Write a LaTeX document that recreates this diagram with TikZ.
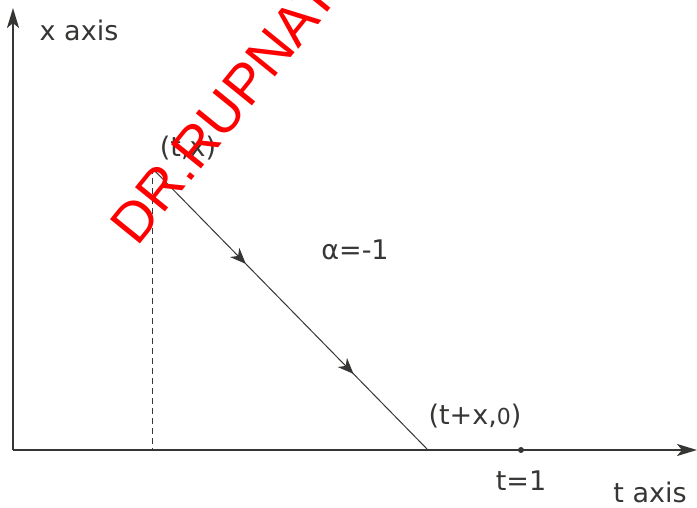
\documentclass[tikz,border=0pt]{standalone}
\usepackage{fontspec}
\setmainfont{DejaVu Sans}
\newfontfamily\wmfont{Liberation Sans}
\usetikzlibrary{arrows.meta,decorations.markings}
\definecolor{ink}{HTML}{363634}
\begin{document}
\begin{tikzpicture}[x=1pt,y=-1pt,
  axis/.style={line width=2.4pt,draw=ink,-{Stealth[length=20pt,width=12pt,inset=5pt]}},
  lbl/.style={font=\fontsize{27}{30}\selectfont,text=ink,inner sep=0pt},
  midarrows/.style={postaction={decorate},decoration={markings,
     mark=at position 0.34 with {\arrow{Stealth[length=16pt,width=13pt,inset=5pt]}},
     mark=at position 0.73 with {\arrow{Stealth[length=16pt,width=13pt,inset=5pt]}}}}]
\useasboundingbox (0,0) rectangle (697,508);
\clip (0,0) rectangle (697,508);
% points
\coordinate (O) at (13,450);
\coordinate (xtop) at (13,8);
\coordinate (tend) at (697,450);
\coordinate (P) at (152,168);
\coordinate (Q) at (428,450);
\coordinate (foot) at (152,450);
% axes
\draw[axis] (O) -- (xtop);
\draw[axis] (O) -- (tend);
% dashed drop
\draw[ink,line width=0.9pt,dash pattern=on 6pt off 4pt] (P) -- (foot);
% characteristic
\draw[ink,line width=1pt,midarrows] (P) -- (Q);
\fill[ink] (521,450) circle (3pt) coordinate (one);
% labels
\node[lbl] (xlab) at (79,30) {x axis};
\node[lbl] (tlab) at (650,492) {t axis};
\node[lbl] (one-lab) at (521,481) {t=1};
\node[lbl] (plab) at (188,148) {(t,x)};
\node[lbl] (qlab) at (475,416) {(t+x,{\fontsize{22}{24}\selectfont 0})};
\node[lbl] (alab) at (355,250) {α=-1};
% watermark
\node[text=red,font=\wmfont\fontsize{56}{56}\selectfont,inner sep=0pt,rotate=51,anchor=south west] (wm) at (138,248) {DR.RUPNAT};
\end{tikzpicture}
\end{document}
